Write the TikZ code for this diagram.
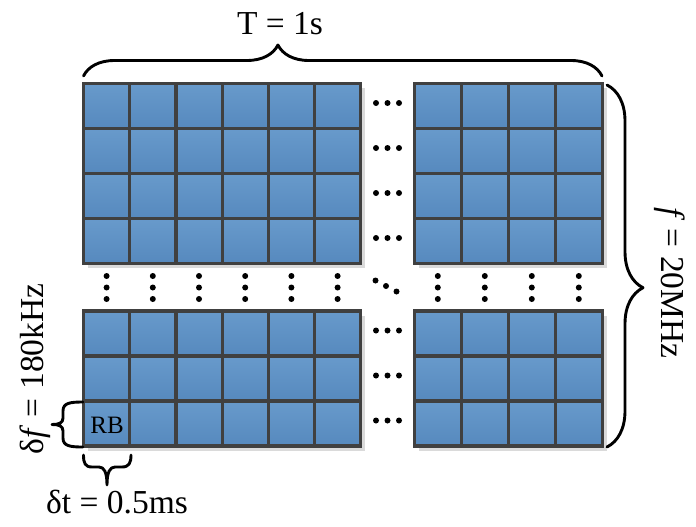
\documentclass[tikz,border=0pt]{standalone}
\usepackage{fontspec}
\setmainfont{Liberation Serif}
\usetikzlibrary{decorations.pathreplacing}
\definecolor{celltop}{RGB}{104,154,203}
\definecolor{cellbot}{RGB}{86,137,190}
\definecolor{gridline}{RGB}{64,64,64}
\definecolor{shadowc}{RGB}{218,218,218}
\newcommand\rbgrid[6]{%
  \fill[shadowc] (#1+4.5,#2+4.5) rectangle (#1+#5*#3+4.5,#2+#6*#4+4.5);
  \foreach \i in {1,...,#5} \foreach \j in {1,...,#6}
    \shade[cell] (#1+\i*#3-#3,#2+\j*#4-#4) rectangle (#1+\i*#3,#2+\j*#4);
  \foreach \i in {0,...,#5} \draw[gridln] (#1+\i*#3,#2) -- (#1+\i*#3,#2+#6*#4);
  \foreach \j in {0,...,#6} \draw[gridln] (#1,#2+\j*#4) -- (#1+#5*#3,#2+\j*#4);
}
\begin{document}
\begin{tikzpicture}[x=1pt,y=-1pt,
  cell/.style={top color=celltop,bottom color=cellbot,draw=none},
  gridln/.style={draw=gridline,line width=3.2pt,line cap=rect},
  bracel/.style={line width=2.9pt,line cap=round,line join=round},
  dotc/.style={fill=black},
  lab/.style={font=\fontsize{33.5}{40}\selectfont,inner sep=0pt}]
\useasboundingbox (0,0) rectangle (696,527);
% blocks
\rbgrid{83.5}{83.5}{46.2}{45}{6}{4}
\rbgrid{414.3}{83.5}{47}{45}{4}{4}
\rbgrid{83.5}{311}{46.2}{45}{6}{3}
\rbgrid{414.3}{311}{47}{45}{4}{3}
% horizontal dots
\foreach \y in {103,148,193,238,330.5,375.5,420.5}
  \foreach \x in {376,387.5,399} \fill[dotc] (\x,\y) circle (3);
% vertical dots
\foreach \x in {106.6,152.8,199,245.2,291.4,337.6,437.8,484.8,531.8,578.8}
  \foreach \y in {276,287.5,299} \fill[dotc] (\x,\y) circle (3);
% diagonal dots
\foreach \p in {(375.5,280.5),(386,286),(396.5,291.5)} \fill[dotc] \p circle (3);
% braces
\coordinate (tl) at (83.5,76);
\coordinate (tr) at (602,76);
\draw[bracel,decorate,decoration={brace,amplitude=31pt,aspect=0.375}] (tl) -- (tr);
\coordinate (rt) at (607,85);
\coordinate (rb) at (607,447);
\draw[bracel,decorate,decoration={brace,amplitude=36pt,aspect=0.56}] (rt) -- (rb);
\coordinate (lbt) at (83,402);
\coordinate (lbb) at (83,447);
\draw[bracel] (lbt) .. controls (70,402) and (63,403) .. (63,411) -- (63,418)
  .. controls (63,423) and (59,424.5) .. (52,424.5)
  .. controls (59,424.5) and (63,426) .. (63,431) -- (63,438)
  .. controls (63,446) and (70,447) .. (lbb);
\coordinate (bbl) at (83.5,455);
\coordinate (bbr) at (131,455);
\draw[bracel] (bbl) .. controls (83.5,463) and (85,467) .. (92,467) -- (99,467)
  .. controls (104,467) and (107,472) .. (107,485)
  .. controls (107,472) and (110,467) .. (115,467) -- (122,467)
  .. controls (129,467) and (131,463) .. (bbr);
% labels
\node[lab,anchor=base] (tlab) at (280,35) {T = 1s};
\node[lab,anchor=base] (dtlab) at (117,513) {δt = 0.5ms};
\node[lab,anchor=base,rotate=90] (dflab) at (43,369) {δ\textit{f} = 180kHz};
\node[lab,anchor=base,rotate=-90] (flab) at (661,283) {\textit{f} = 20MHz};
\node[font=\fontsize{25}{30}\selectfont,anchor=base,inner sep=0pt] (rblab) at (107,433) {RB};
\end{tikzpicture}
\end{document}
